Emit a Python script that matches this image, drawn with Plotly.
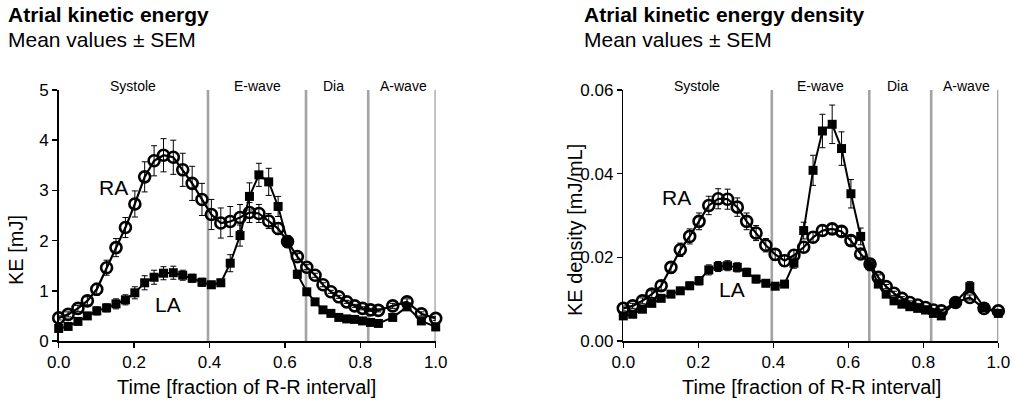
import plotly.graph_objects as go

# ---- data ----
time_frac = [0.000, 0.025, 0.051, 0.076, 0.101, 0.127, 0.152, 0.177, 0.202, 0.228,
             0.253, 0.278, 0.304, 0.329, 0.354, 0.380, 0.405, 0.430, 0.455, 0.481,
             0.506, 0.531, 0.557, 0.582, 0.607, 0.633, 0.658,
             0.680, 0.701, 0.722, 0.743, 0.764, 0.785, 0.806, 0.827, 0.848,
             0.886, 0.924, 0.962, 1.000]

ke_ra = [0.46, 0.53, 0.65, 0.80, 1.03, 1.46, 1.86, 2.26, 2.73, 3.27,
         3.59, 3.70, 3.66, 3.41, 3.14, 2.82, 2.52, 2.35, 2.38, 2.46,
         2.56, 2.54, 2.39, 2.24, 1.98, 1.68, 1.47,
         1.31, 1.12, 0.98, 0.88, 0.78, 0.70, 0.65, 0.62, 0.61,
         0.70, 0.78, 0.54, 0.45]
ke_ra_sem = [0.04, 0.05, 0.06, 0.08, 0.12, 0.15, 0.18, 0.2, 0.26, 0.3,
             0.3, 0.33, 0.34, 0.33, 0.34, 0.32, 0.3, 0.3, 0.3, 0.26,
             0.2, 0.18, 0.15, 0.12, 0.08, 0.06, 0.05,
             0.04, 0.04, 0.03, 0.03, 0.03, 0.03, 0.03, 0.03, 0.03,
             0.05, 0.06, 0.04, 0.04]

ke_la = [0.25, 0.29, 0.39, 0.50, 0.60, 0.66, 0.74, 0.82, 0.96, 1.16,
         1.27, 1.35, 1.36, 1.31, 1.25, 1.17, 1.12, 1.16, 1.55, 2.10,
         2.88, 3.31, 3.17, 2.68, 1.98, 1.33, 0.98,
         0.78, 0.62, 0.55, 0.47, 0.44, 0.43, 0.40, 0.37, 0.35,
         0.47, 0.68, 0.40, 0.28]
ke_la_sem = [0.04, 0.05, 0.06, 0.07, 0.08, 0.08, 0.1, 0.1, 0.12, 0.14,
             0.14, 0.13, 0.13, 0.1, 0.08, 0.08, 0.07, 0.07, 0.17, 0.21,
             0.27, 0.23, 0.27, 0.2, 0.12, 0.08, 0.06,
             0.04, 0.03, 0.03, 0.03, 0.03, 0.03, 0.03, 0.03, 0.03,
             0.04, 0.06, 0.04, 0.03]

ked_ra = [0.0078, 0.0084, 0.0096, 0.0112, 0.0132, 0.0176, 0.0218, 0.0250, 0.0286, 0.0324,
          0.0340, 0.0339, 0.0320, 0.0286, 0.0258, 0.0229, 0.0207, 0.0192, 0.0205, 0.0224,
          0.0248, 0.0264, 0.0268, 0.0262, 0.0240, 0.0208, 0.0184,
          0.0152, 0.0130, 0.0114, 0.0102, 0.0092, 0.0086, 0.0080, 0.0074, 0.0072,
          0.0092, 0.0104, 0.0078, 0.0072]
ked_ra_sem = [0.0006, 0.0006, 0.0007, 0.0008, 0.001, 0.0014, 0.0016, 0.0018, 0.002, 0.0022,
              0.0024, 0.0024, 0.0022, 0.002, 0.0018, 0.0016, 0.0014, 0.0013, 0.0013, 0.0012,
              0.0012, 0.0011, 0.001, 0.001, 0.001, 0.0009, 0.0008,
              0.0006, 0.0005, 0.0005, 0.0004, 0.0004, 0.0004, 0.0004, 0.0004, 0.0004,
              0.0005, 0.0006, 0.0005, 0.0004]

ked_la = [0.0060, 0.0064, 0.0076, 0.0090, 0.0102, 0.0112, 0.0120, 0.0132, 0.0144, 0.0170,
          0.0178, 0.0180, 0.0176, 0.0164, 0.0148, 0.0138, 0.0131, 0.0136, 0.0186, 0.0264,
          0.0408, 0.0502, 0.0518, 0.0460, 0.0352, 0.0250, 0.0180,
          0.0136, 0.0112, 0.0096, 0.0088, 0.0082, 0.0078, 0.0074, 0.0066, 0.0060,
          0.0092, 0.0130, 0.0080, 0.0066]
ked_la_sem = [0.0005, 0.0005, 0.0006, 0.0006, 0.0007, 0.0007, 0.0008, 0.0009, 0.001, 0.0012,
              0.0012, 0.0012, 0.0011, 0.001, 0.0009, 0.0008, 0.0008, 0.0008, 0.0012, 0.002,
              0.0036, 0.004, 0.0046, 0.004, 0.0034, 0.002, 0.0012,
              0.0008, 0.0006, 0.0005, 0.0005, 0.0005, 0.0005, 0.0005, 0.0005, 0.0005,
              0.0006, 0.0012, 0.0006, 0.0005]

phase_bounds = [0.396, 0.656, 0.821, 1.0]
phase_labels = ["Systole", "E-wave", "Dia", "A-wave"]
phase_label_x = [0.197, 0.526, 0.73, 0.915]

x_ticks = [0.0, 0.2, 0.4, 0.6, 0.8, 1.0]
x_tick_text = ["0.0", "0.2", "0.4", "0.6", "0.8", "1.0"]
y1_ticks = [0, 1, 2, 3, 4, 5]
y2_ticks = [0.0, 0.02, 0.04, 0.06]
y2_tick_text = ["0.00", "0.02", "0.04", "0.06"]

FONT = "Liberation Sans, Arial, sans-serif"
W, H = 1019, 404

fig = go.Figure()


def add_series(xa, ya, y, sem, kind):
    if kind == "RA":
        marker = dict(symbol="circle-open", size=11, color="black", line=dict(width=2.6, color="black"))
        line = dict(color="black", width=2.2)
    else:
        marker = dict(symbol="square", size=9, color="black", line=dict(width=0))
        line = dict(color="black", width=2)
    fig.add_trace(go.Scatter(
        x=time_frac, y=y, xaxis=xa, yaxis=ya, mode="lines+markers",
        marker=marker, line=line, cliponaxis=False, showlegend=False, hoverinfo="skip",
        error_y=dict(type="data", array=sem, visible=True, color="black", thickness=1, width=3),
    ))


add_series("x", "y", ke_la, ke_la_sem, "LA")
add_series("x", "y", ke_ra, ke_ra_sem, "RA")
add_series("x2", "y2", ked_la, ked_la_sem, "LA")
add_series("x2", "y2", ked_ra, ked_ra_sem, "RA")

shapes = []
annotations = []
for xa, ya, ytop in [("x", "y", 5), ("x2", "y2", 0.06)]:
    for b in phase_bounds:
        shapes.append(dict(type="line", xref=xa, yref=ya, x0=b, x1=b, y0=0, y1=ytop,
                           line=dict(color="#a3a3a3", width=2.6), layer="below"))
    for lab, lx in zip(phase_labels, phase_label_x):
        annotations.append(dict(text=lab, x=lx, y=ytop, xref=xa, yref=ya, showarrow=False,
                                yanchor="middle", yshift=4, font=dict(size=14, color="black", family=FONT)))


def paper_text(text, px, py, size, xanchor="center", angle=0):
    return dict(text=text, x=px / W, y=1 - py / H, xref="paper", yref="paper",
                xanchor=xanchor, yanchor="middle", showarrow=False, textangle=angle,
                font=dict(size=size, family=FONT, color="black"))


annotations += [
    dict(text="RA", x=0.145, y=3.05, xref="x", yref="y", showarrow=False, font=dict(size=21, family=FONT)),
    dict(text="LA", x=0.29, y=0.72, xref="x", yref="y", showarrow=False, font=dict(size=21, family=FONT)),
    dict(text="RA", x=0.142, y=0.0344, xref="x2", yref="y2", showarrow=False, font=dict(size=21, family=FONT)),
    dict(text="LA", x=0.289, y=0.0124, xref="x2", yref="y2", showarrow=False, font=dict(size=21, family=FONT)),
    paper_text("<b>Atrial kinetic energy</b>", 6, 14, 21, "left"),
    paper_text("Mean values ± SEM", 6, 40, 21, "left"),
    paper_text("<b>Atrial kinetic energy density</b>", 582, 14, 21, "left"),
    paper_text("Mean values ± SEM", 582, 40, 21, "left"),
    paper_text("Time [fraction of R-R interval]", 246.5, 387, 20),
    paper_text("Time [fraction of R-R interval]", 811, 387, 20),
    paper_text("KE [mJ]", 16, 250, 20, angle=-90),
    paper_text("KE density [mJ/mL]", 575, 230, 20, angle=-90),
]

axis_common = dict(showgrid=False, zeroline=False, showline=True, linecolor="black", linewidth=1.5,
                   ticks="outside", ticklen=5, tickwidth=1.5, tickcolor="black", automargin=False,
                   tickfont=dict(size=17, family=FONT, color="black"))


def xd(a, b):
    return [a / W, b / W]


ydom = [1 - 341 / H, 1 - 90 / H]
fig.update_layout(
    width=W, height=H, margin=dict(l=0, r=0, t=0, b=0),
    paper_bgcolor="white", plot_bgcolor="white",
    font=dict(family=FONT, color="black"),
    shapes=shapes, annotations=annotations, hovermode=False,
    xaxis=dict(domain=xd(58.7, 435.7), range=[0, 1], tickvals=x_ticks, ticktext=x_tick_text,
               anchor="y", **axis_common),
    yaxis=dict(domain=ydom, range=[0, 5], tickvals=y1_ticks, anchor="x", **axis_common),
    xaxis2=dict(domain=xd(623.3, 998.3), range=[0, 1], tickvals=x_ticks, ticktext=x_tick_text,
                anchor="y2", **axis_common),
    yaxis2=dict(domain=ydom, range=[0, 0.06], tickvals=y2_ticks, ticktext=y2_tick_text,
                anchor="x2", **axis_common),
)

fig.write_html("out.html", config={"displayModeBar": False, "staticPlot": True},
               post_script="document.body.style.margin='0px';document.body.style.overflow='hidden';")
